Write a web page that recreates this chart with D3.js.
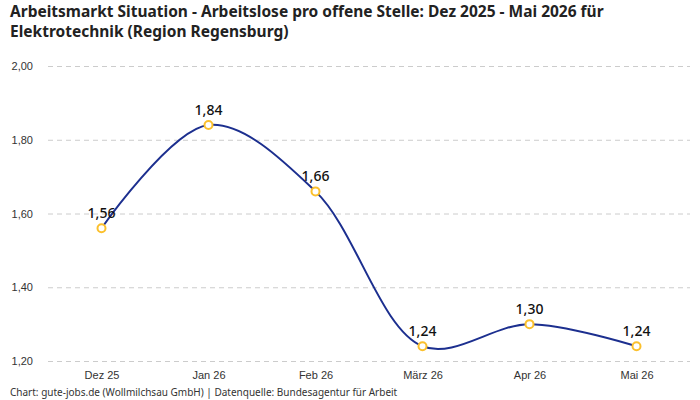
<!DOCTYPE html>
<html><head><meta charset="utf-8">
<script src="https://cdn.jsdelivr.net/npm/d3@7"></script>
<style>body{margin:0;background:#fff}svg{display:block;font-family:"Noto Sans","Open Sans",sans-serif}</style>
</head><body><svg id="c" width="700" height="400"></svg>
<script>
const categories = ["Dez 25","Jan 26","Feb 26","März 26","Apr 26","Mai 26"];
const values = [1.56,1.84,1.66,1.24,1.30,1.24];
const yTicks = [1.2,1.4,1.6,1.8,2.0];
const titleLines = ["Arbeitsmarkt Situation - Arbeitslose pro offene Stelle: Dez 2025 - Mai 2026 für","Elektrotechnik (Region Regensburg)"];
const footer = "Chart: gute-jobs.de (Wollmilchsau GmbH) | Datenquelle: Bundesagentur für Arbeit";

const svg = d3.select("#c");
const fmt = v => v.toFixed(2).replace(".", ",");
const x = d3.scalePoint().domain(categories).range([48,690]).padding(0.5);
const y = d3.scaleLinear().domain([1.2,2.0]).range([361,66]);

svg.append("g").selectAll("text").data(titleLines).join("text")
  .attr("x",10).attr("y",(d,i)=>17+i*20).attr("font-size",15.5).attr("font-weight","bold").attr("fill","#222").text(d=>d);

const ya = svg.append("g").attr("transform","translate(48,0)")
  .call(d3.axisLeft(y).tickValues(yTicks).tickSize(-642).tickFormat(fmt));
ya.select(".domain").remove();
ya.selectAll(".tick line").attr("stroke","#ccc").attr("stroke-dasharray","5,4");
ya.selectAll(".tick text").attr("x",-15).attr("font-size",11).attr("fill","#333").attr("font-family","inherit");

const xa = svg.append("g").attr("transform","translate(0,361)")
  .call(d3.axisBottom(x).tickSize(0).tickPadding(10));
xa.select(".domain").remove();
xa.selectAll(".tick text").attr("font-size",11).attr("fill","#333").attr("font-family","inherit");

const line = d3.line().x((d,i)=>x(categories[i])).y(d=>y(d)).curve(d3.curveCatmullRom.alpha(0.5));
svg.append("path").datum(values).attr("d",line).attr("fill","none").attr("stroke","#1c2f8f").attr("stroke-width",2);

svg.append("g").selectAll("circle").data(values).join("circle")
  .attr("cx",(d,i)=>x(categories[i])).attr("cy",d=>y(d)).attr("r",4)
  .attr("fill","#fff").attr("stroke","#fbc02d").attr("stroke-width",2);

svg.append("g").selectAll("text").data(values).join("text")
  .attr("x",(d,i)=>x(categories[i])).attr("y",d=>y(d)-10).attr("text-anchor","middle")
  .attr("font-size",14).attr("font-weight",500).attr("fill","#111").text(fmt);

svg.append("text").attr("x",10).attr("y",396).attr("font-size",10).attr("fill","#333").text(footer);
</script></body></html>
